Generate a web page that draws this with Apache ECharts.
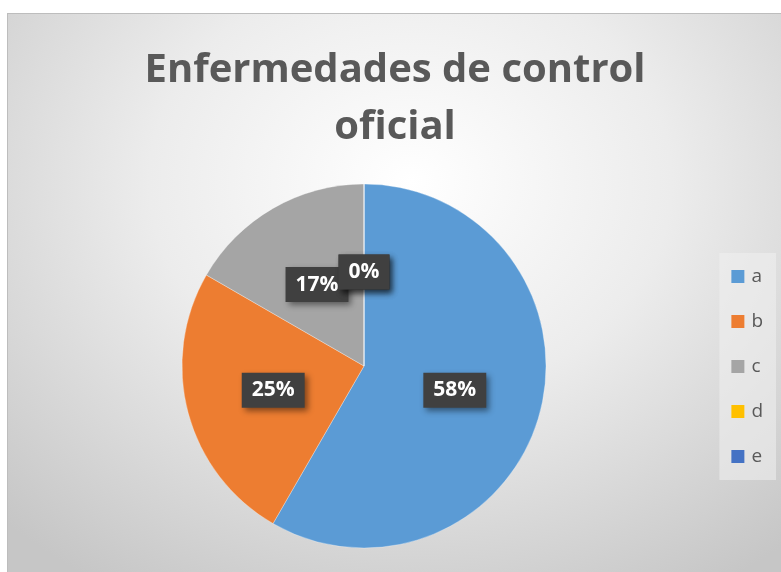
<!DOCTYPE html>
<html>
<head>
<meta charset="utf-8">
<script src="https://cdn.jsdelivr.net/npm/echarts@6/dist/echarts.min.js"></script>
<style>
  html, body { margin: 0; padding: 0; background: #fff; }
  #container {
    position: absolute; left: 7px; top: 13px; width: 774px; height: 559px;
    border-top: 1px solid #bdbdbd; border-left: 1px solid #bdbdbd;
    background: radial-gradient(ellipse 75% 85% at 52% 30%, #ffffff 0%, #ececec 45%, #c6c6c6 100%);
  }
</style>
</head>
<body>
<div id="container"></div>
<script>
const categories = ['a', 'b', 'c', 'd', 'e'];
const counts = [7, 3, 2, 0, 0];
const colors = ['#5b9bd5', '#ed7d31', '#a5a5a5', '#ffc000', '#4472c4'];

const chart = echarts.init(document.getElementById('container'));

const option = {
  color: colors,
  title: {
    text: 'Enfermedades de control\noficial',
    left: 'center',
    top: 23,
    textStyle: {
      fontFamily: 'Open Sans',
      fontWeight: 'bold',
      fontSize: 40,
      lineHeight: 57,
      color: '#595959'
    }
  },
  legend: {
    orient: 'vertical',
    right: 6,
    top: 239,
    icon: 'rect',
    itemWidth: 13,
    itemHeight: 13,
    itemGap: 26,
    itemStyle: { borderWidth: 0 },
    padding: [14, 13, 14, 12],
    backgroundColor: 'rgba(240,240,240,0.55)',
    textStyle: { fontSize: 19, color: '#595959', fontFamily: 'Open Sans', padding: [0, 0, 0, 2] },
    data: categories
  },
  series: [{
    type: 'pie',
    center: [356, 352],
    radius: 182,
    startAngle: 90,
    clockwise: true,
    avoidLabelOverlap: false,
    minShowLabelAngle: -1,
    labelLayout: { hideOverlap: false },
    label: {
      show: true,
      position: 'inside',
      formatter: p => Math.round(p.percent) + '%',
      color: '#ffffff',
      fontWeight: 'bold',
      fontSize: 21,
      fontFamily: 'Open Sans',
      backgroundColor: '#404040',
      padding: [8, 10, 6, 10],
      shadowColor: 'rgba(0,0,0,0.45)',
      shadowBlur: 6,
      shadowOffsetX: 3,
      shadowOffsetY: 3
    },
    labelLine: { show: false },
    itemStyle: { borderColor: 'rgba(255,255,255,0.6)', borderWidth: 0.5 },
    emphasis: { disabled: true },
    data: categories.map((c, i) => ({ name: c, value: counts[i] }))
  }]
};

chart.setOption(option);
</script>
</body>
</html>
